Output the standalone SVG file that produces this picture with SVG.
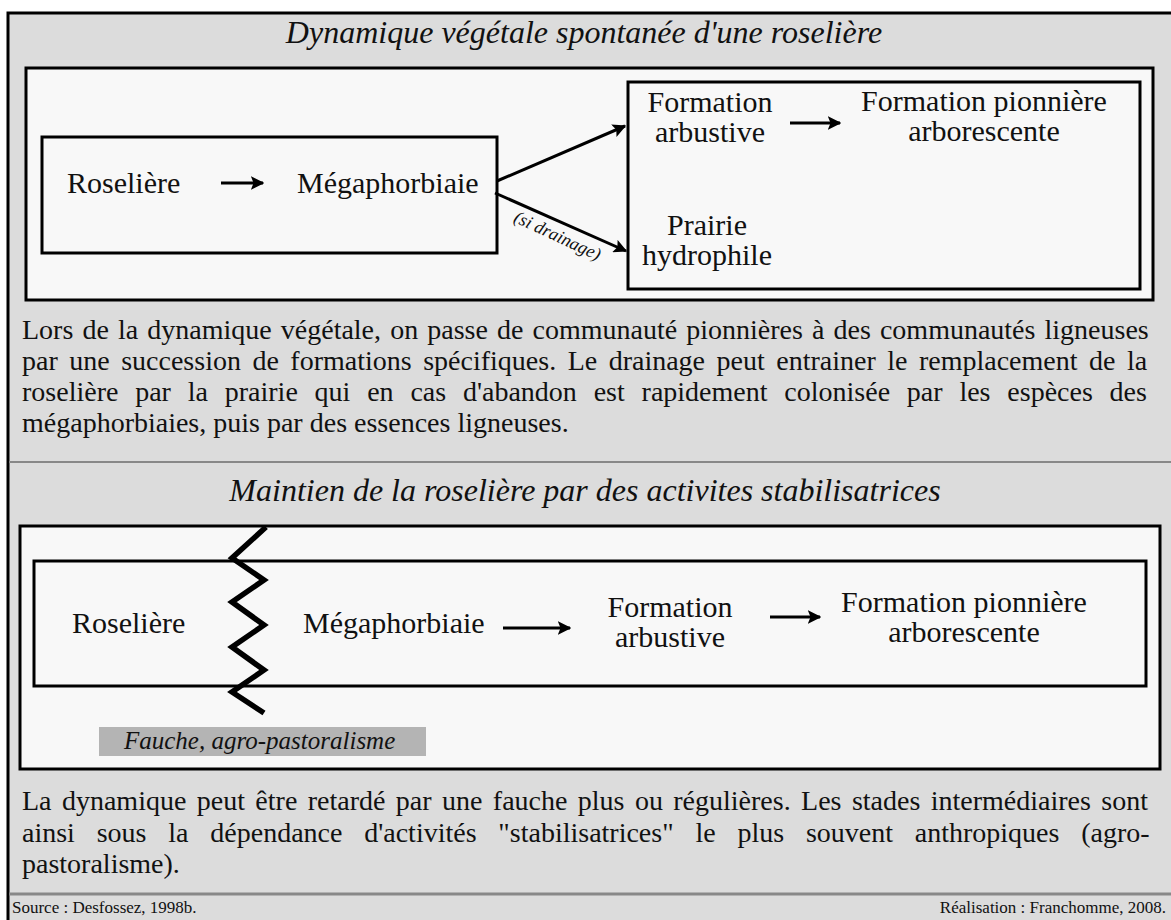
<svg xmlns="http://www.w3.org/2000/svg" width="1171" height="920" viewBox="0 0 1171 920">
<style>
text{font-family:'Liberation Serif','DejaVu Serif',serif;fill:#111}
.node{font-size:30px}
.para{font-size:28px}
.title{font-size:32px;font-style:italic}
.box{fill:#f8f8f8;stroke:#000;stroke-width:3}
.conn{stroke:#000;stroke-width:3;fill:none}
</style>
<defs>
<marker id="ah" viewBox="0 0 10 10" refX="9" refY="5" markerWidth="4.5" markerHeight="4.5" orient="auto" markerUnits="strokeWidth">
<path d="M0,0 L10,5 L0,10 L2,5 z" fill="#000"/>
</marker>
</defs>
<rect x="0" y="0" width="1171" height="920" fill="#fff"/>
<rect x="8" y="13" width="1175" height="920" fill="#dcdcdc" stroke="#000" stroke-width="3"/>
<line x1="9" y1="462" x2="1171" y2="462" stroke="#888" stroke-width="2"/>
<line x1="9" y1="894" x2="1171" y2="894" stroke="#888" stroke-width="3"/>

<g id="section1">
<text class="title" x="584" y="43" text-anchor="middle">Dynamique végétale spontanée d'une roselière</text>
<rect class="box" x="26" y="68" width="1127" height="232"/>
</g>
<g id="n-roseliere-megaphorbiaie">
<rect class="box" x="42" y="137" width="455" height="116"/>
<text class="node" x="67" y="193">Roselière</text>
<text class="node" x="297" y="193">Mégaphorbiaie</text>
</g>
<g id="n-right-group">
<rect class="box" x="628" y="82" width="512" height="207"/>
<text class="node" x="710" y="112" text-anchor="middle">Formation</text>
<text class="node" x="710" y="142" text-anchor="middle">arbustive</text>
<text class="node" x="984" y="111" text-anchor="middle">Formation pionnière</text>
<text class="node" x="984" y="141" text-anchor="middle">arborescente</text>
<text class="node" x="707" y="235" text-anchor="middle">Prairie</text>
<text class="node" x="707" y="265" text-anchor="middle">hydrophile</text>
</g>
<g id="para1">
<text class="para" x="22" y="339" word-spacing="2.1">Lors de la dynamique végétale, on passe de communauté pionnières à des communautés ligneuses</text>
<text class="para" x="22" y="370" word-spacing="4.5">par une succession de formations spécifiques. Le drainage peut entrainer le remplacement de la</text>
<text class="para" x="22" y="401" word-spacing="9.8">roselière par la prairie qui en cas d'abandon est rapidement colonisée par les espèces des</text>
<text class="para" x="22" y="432">mégaphorbiaies, puis par des essences ligneuses.</text>
</g>

<g id="section2">
<text class="title" x="585" y="501" text-anchor="middle">Maintien de la roselière par des activites stabilisatrices</text>
<rect class="box" x="20" y="526" width="1140" height="243"/>
</g>
<g id="n-chain2">
<rect class="box" x="34" y="561" width="1112" height="125"/>
<text class="node" x="72" y="633">Roselière</text>
<text class="node" x="303" y="633">Mégaphorbiaie</text>
<text class="node" x="670" y="617" text-anchor="middle">Formation</text>
<text class="node" x="670" y="647" text-anchor="middle">arbustive</text>
<text class="node" x="964" y="612" text-anchor="middle">Formation pionnière</text>
<text class="node" x="964" y="642" text-anchor="middle">arborescente</text>
</g>
<g id="n-fauche">
<polyline points="266,527 232,558 264,580 232,602 264,625 232,647 264,670 232,692 264,713" fill="none" stroke="#000" stroke-width="5.5" stroke-linejoin="miter"/>
<rect x="99" y="727" width="327" height="29" fill="#b4b4b4"/>
<text x="124" y="749" font-size="25" font-style="italic">Fauche, agro-pastoralisme</text>
</g>
<g id="para2">
<text class="para" x="22" y="810" word-spacing="3.4">La dynamique peut être retardé par une fauche plus ou régulières. Les stades intermédiaires sont</text>
<text class="para" x="22" y="842" word-spacing="14.8">ainsi sous la dépendance d'activités "stabilisatrices" le plus souvent anthropiques (agro-</text>
<text class="para" x="22" y="873">pastoralisme).</text>
</g>
<g id="footer">
<text x="12" y="913" font-size="17">Source : Desfossez, 1998b.</text>
<text x="1166" y="913" font-size="17" text-anchor="end">Réalisation : Franchomme, 2008.</text>
</g>

<g id="connectors">
<line class="conn" x1="221" y1="183" x2="263" y2="183" marker-end="url(#ah)"/>
<line class="conn" x1="497" y1="181" x2="625" y2="126" marker-end="url(#ah)"/>
<line class="conn" x1="495" y1="193" x2="626" y2="251" marker-end="url(#ah)"/>
<line class="conn" x1="790" y1="123" x2="840" y2="123" marker-end="url(#ah)"/>
<line class="conn" x1="503" y1="628" x2="570" y2="628" marker-end="url(#ah)"/>
<line class="conn" x1="770" y1="617" x2="820" y2="617" marker-end="url(#ah)"/>
<text font-size="18" font-style="italic" text-anchor="middle" transform="translate(555,241) rotate(25)">(si drainage)</text>
</g>
</svg>
